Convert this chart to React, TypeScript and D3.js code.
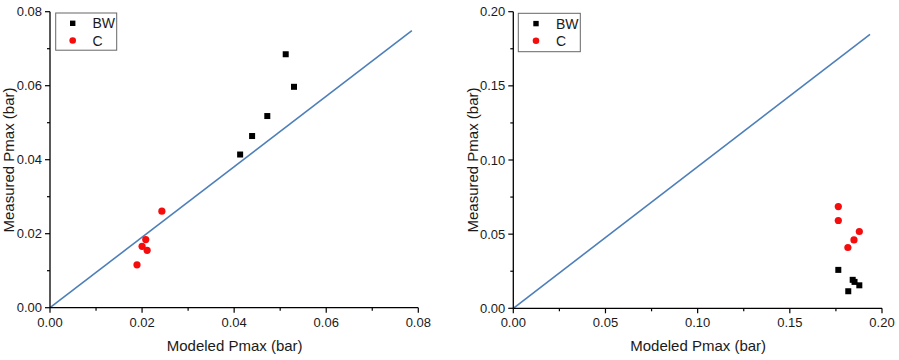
import React from "react";
import * as d3 from "d3";

// Left panel: BW and C against the fitted line
const leftBwX = [0.0512, 0.0530, 0.0472, 0.0439, 0.0413];
const leftBwY = [0.0685, 0.0597, 0.0518, 0.0464, 0.0414];
const leftCX = [0.0243, 0.0208, 0.0200, 0.0211, 0.0189];
const leftCY = [0.0261, 0.0184, 0.0166, 0.0155, 0.0116];
const leftLineX = [0, 0.0786];
const leftLineY = [0, 0.0749];
const leftTicks = [0, 0.02, 0.04, 0.06, 0.08];
const leftMinor = [0.01, 0.03, 0.05, 0.07];

// Right panel
const rightBwX = [0.1763, 0.1841, 0.1851, 0.1877, 0.1817];
const rightBwY = [0.0259, 0.0192, 0.0178, 0.0155, 0.0115];
const rightCX = [0.1763, 0.1763, 0.1877, 0.1848, 0.1815];
const rightCY = [0.0686, 0.0592, 0.0518, 0.0461, 0.0410];
const rightLineX = [0, 0.1935];
const rightLineY = [0, 0.1847];
const rightTicks = [0, 0.05, 0.1, 0.15, 0.2];
const rightMinor = [0.025, 0.075, 0.125, 0.175];

const seriesNames = ["BW", "C"];
const xTitle = "Modeled Pmax (bar)";
const yTitle = "Measured Pmax (bar)";

const FONT = "'Liberation Sans', Arial, sans-serif";
const LINE_BLUE = "#4d7fb9";
const RED = "#f50c0c";
const TEXT = "#1a1a1a";

type PanelProps = {
  x0: number;
  x1: number;
  y0: number;
  y1: number;
  domainMax: number;
  ticks: number[];
  minor: number[];
  bwX: number[];
  bwY: number[];
  cX: number[];
  cY: number[];
  lineX: number[];
  lineY: number[];
  titleX: number;
  legend: { left: number; top: number; right: number; bottom: number; sym: number; text: number };
};

function Panel(p: PanelProps) {
  const x = d3.scaleLinear().domain([0, p.domainMax]).range([p.x0, p.x1]);
  const y = d3.scaleLinear().domain([0, p.domainMax]).range([p.y0, p.y1]);
  const fmt = d3.format(".2f");
  const line = d3
    .line<number>()
    .x((_, i) => x(p.lineX[i]))
    .y((_, i) => y(p.lineY[i]));
  const sq = 6;
  const row1 = p.legend.top + 10.3;
  const row2 = p.legend.top + 27.5;
  return (
    <g>
      <path d={line(p.lineX) || ""} fill="none" stroke={LINE_BLUE} strokeWidth={1.6} />
      {p.bwX.map((v, i) => (
        <rect key={"b" + i} x={x(v) - sq / 2} y={y(p.bwY[i]) - sq / 2} width={sq} height={sq} fill="#000" />
      ))}
      {p.cX.map((v, i) => (
        <circle key={"c" + i} cx={x(v)} cy={y(p.cY[i])} r={3.6} fill={RED} />
      ))}
      {/* axes */}
      <line x1={p.x0} x2={p.x1} y1={p.y0} y2={p.y0} stroke="#000" strokeWidth={1.3} />
      <line x1={p.x0} x2={p.x0} y1={p.y0} y2={p.y1} stroke="#000" strokeWidth={1.3} />
      {p.ticks.map((t) => (
        <g key={"xt" + t}>
          <line x1={x(t)} x2={x(t)} y1={p.y0} y2={p.y0 + 5} stroke="#000" strokeWidth={1.2} />
          <text x={x(t)} y={p.y0 + 19} textAnchor="middle" fontSize={13} fontFamily={FONT} fill={TEXT}>
            {fmt(t)}
          </text>
        </g>
      ))}
      {p.minor.map((t) => (
        <line key={"xm" + t} x1={x(t)} x2={x(t)} y1={p.y0} y2={p.y0 + 3} stroke="#000" strokeWidth={1.2} />
      ))}
      {p.ticks.map((t) => (
        <g key={"yt" + t}>
          <line x1={p.x0 - 5} x2={p.x0} y1={y(t)} y2={y(t)} stroke="#000" strokeWidth={1.2} />
          <text x={p.x0 - 8} y={y(t) + 4.6} textAnchor="end" fontSize={13} fontFamily={FONT} fill={TEXT}>
            {fmt(t)}
          </text>
        </g>
      ))}
      {p.minor.map((t) => (
        <line key={"ym" + t} x1={p.x0 - 3} x2={p.x0} y1={y(t)} y2={y(t)} stroke="#000" strokeWidth={1.2} />
      ))}
      <text
        x={(p.x0 + p.x1) / 2 + 0.5}
        y={351}
        textAnchor="middle"
        fontSize={15}
        fontFamily={FONT}
        fill={TEXT}
      >
        {xTitle}
      </text>
      <text
        transform={`translate(${p.titleX},160) rotate(-90)`}
        textAnchor="middle"
        fontSize={15}
        fontFamily={FONT}
        fill={TEXT}
      >
        {yTitle}
      </text>
      {/* legend */}
      <rect
        x={p.legend.left}
        y={p.legend.top}
        width={p.legend.right - p.legend.left}
        height={p.legend.bottom - p.legend.top}
        fill="#fff"
        stroke="#666"
        strokeWidth={1}
      />
      <rect x={p.legend.sym - 2.7} y={row1 - 2.7} width={5.4} height={5.4} fill="#000" />
      <circle cx={p.legend.sym} cy={row2} r={3.3} fill={RED} />
      <text x={p.legend.text} y={row1 + 5} fontSize={14} fontFamily={FONT} fill={TEXT}>
        {seriesNames[0]}
      </text>
      <text x={p.legend.text} y={row2 + 5} fontSize={14} fontFamily={FONT} fill={TEXT}>
        {seriesNames[1]}
      </text>
    </g>
  );
}

export default function App() {
  return (
    <div style={{ position: "absolute", left: 0, top: 0 }}>
      <svg width={899} height={360} style={{ display: "block", background: "#fff" }}>
        <Panel
          x0={50}
          x1={418.3}
          y0={307.7}
          y1={11.7}
          domainMax={0.08}
          ticks={leftTicks}
          minor={leftMinor}
          bwX={leftBwX}
          bwY={leftBwY}
          cX={leftCX}
          cY={leftCY}
          lineX={leftLineX}
          lineY={leftLineY}
          titleX={14}
          legend={{ left: 55.7, top: 13, right: 116.7, bottom: 50.2, sym: 72.7, text: 92.5 }}
        />
        <Panel
          x0={513.3}
          x1={882}
          y0={308.3}
          y1={11.7}
          domainMax={0.2}
          ticks={rightTicks}
          minor={rightMinor}
          bwX={rightBwX}
          bwY={rightBwY}
          cX={rightCX}
          cY={rightCY}
          lineX={rightLineX}
          lineY={rightLineY}
          titleX={478}
          legend={{ left: 518.3, top: 13.3, right: 580.3, bottom: 51.7, sym: 536, text: 556 }}
        />
      </svg>
    </div>
  );
}
